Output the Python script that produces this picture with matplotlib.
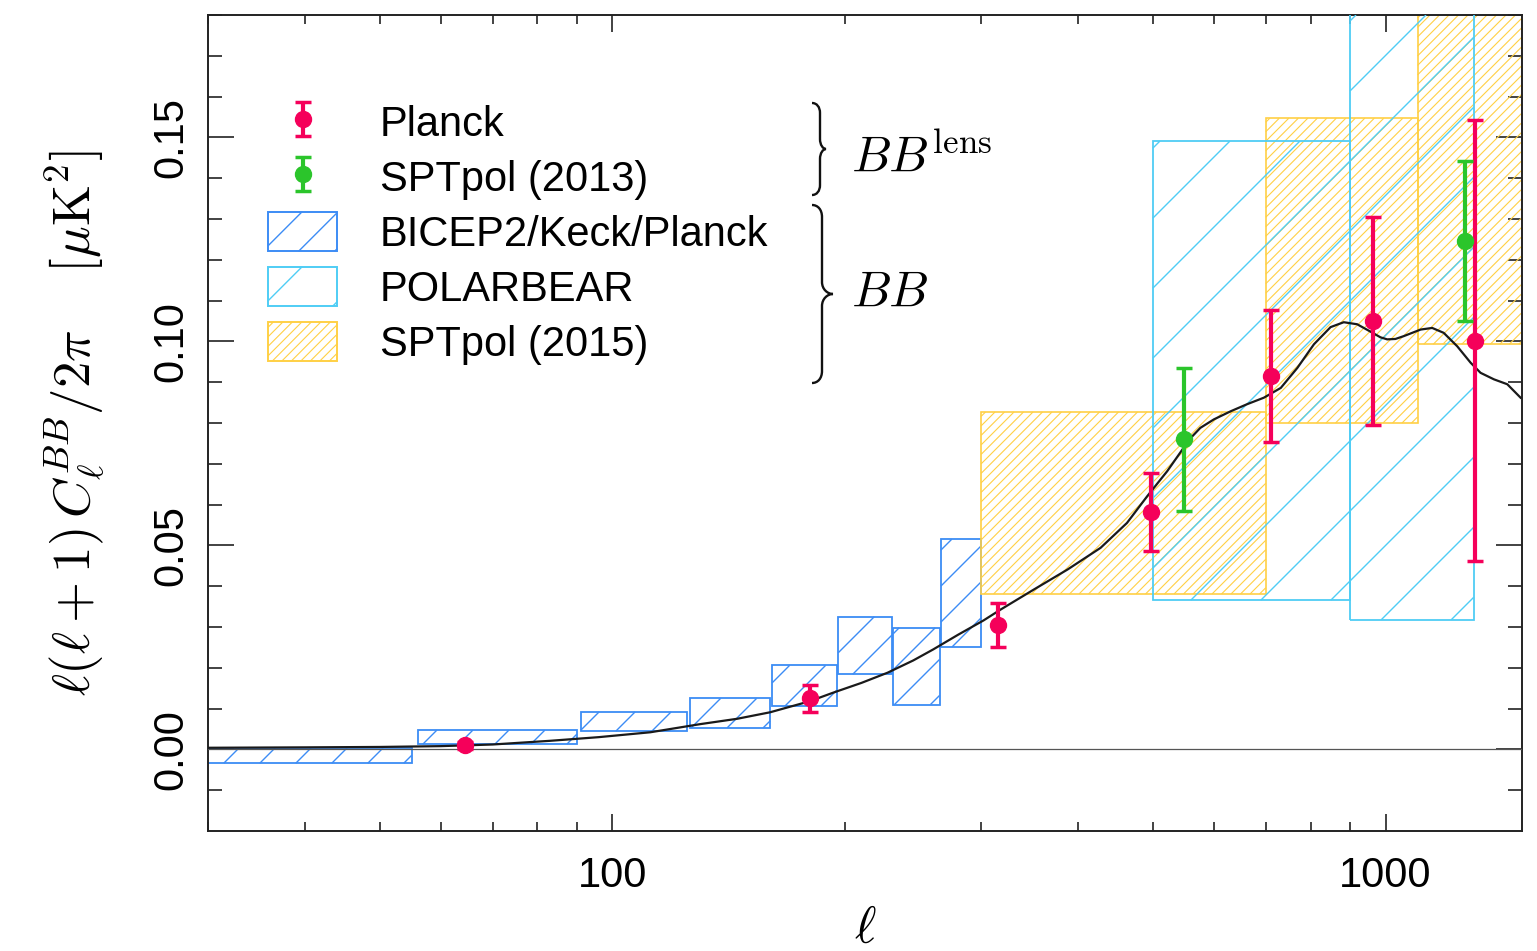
import numpy as np
import matplotlib
matplotlib.use("Agg")
import matplotlib.pyplot as plt
from matplotlib.patches import Rectangle, Patch, PathPatch
from matplotlib.path import Path
from matplotlib.collections import LineCollection
from matplotlib.legend_handler import HandlerBase, HandlerErrorbar
from matplotlib.container import ErrorbarContainer
from matplotlib.ticker import FixedLocator, LogLocator, NullFormatter, FuncFormatter

plt.rcParams['font.family'] = ['Liberation Sans', 'DejaVu Sans']
plt.rcParams['mathtext.fontset'] = 'cm'

# lensing BB theory curve
theory_ell = [30, 40, 50, 60, 70, 83, 96, 112, 130, 145, 160, 180, 193, 210, 227, 245,
              260, 280, 302, 318, 351, 388, 428, 463, 492, 522, 548, 559, 576, 600,
              631, 662, 696, 732, 769, 808, 849, 883, 919, 956, 985, 1005, 1030, 1056,
              1110, 1149, 1189, 1238, 1288, 1327, 1381, 1437, 1495]
theory_bb = [0.0004, 0.0005, 0.0006, 0.0008, 0.0012, 0.0021, 0.0030, 0.0042, 0.0062,
             0.0075, 0.0091, 0.0118, 0.0139, 0.0163, 0.0188, 0.0218, 0.0245, 0.0281,
             0.0316, 0.0343, 0.0392, 0.0441, 0.0494, 0.0555, 0.0621, 0.0682, 0.0739,
             0.0762, 0.0788, 0.0809, 0.0829, 0.0846, 0.0862, 0.0886, 0.0935, 0.0993,
             0.1035, 0.1047, 0.1042, 0.1024, 0.1010, 0.1005, 0.1006, 0.1013, 0.1029,
             0.1033, 0.1021, 0.0988, 0.0948, 0.0923, 0.0907, 0.0895, 0.0862]

# Planck lensing BB
planck_ell = [64.5, 180, 315, 498, 710, 962, 1304]
planck_bb = [0.0010, 0.0125, 0.0305, 0.0582, 0.0916, 0.1050, 0.1002]
planck_err = [0.0008, 0.0033, 0.0055, 0.0096, 0.0162, 0.0254, 0.0540]

# SPTpol (2013) lensing BB
spt13_ell = [548, 1266]
spt13_bb = [0.0760, 0.1246]
spt13_err = [0.0176, 0.0195]

# BICEP2/Keck/Planck band powers
bk_lo = [20, 56, 91, 126, 161, 196, 231, 266]
bk_hi = [55, 90, 125, 160, 195, 230, 265, 300]
bk_min = [-0.0034, 0.0013, 0.0045, 0.0053, 0.0106, 0.0184, 0.0110, 0.0251]
bk_max = [0.0004, 0.0047, 0.0092, 0.0125, 0.0206, 0.0325, 0.0298, 0.0515]

# POLARBEAR band powers
pb_lo = [500, 900]
pb_hi = [900, 1300]
pb_min = [0.0366, 0.0318]
pb_max = [0.1491, 0.2000]

# SPTpol (2015) band powers
spt15_lo = [300, 700, 1100]
spt15_hi = [700, 1100, 1500]
spt15_min = [0.0381, 0.0800, 0.0993]
spt15_max = [0.0827, 0.1547, 0.2000]

c_planck = '#F5005A'
c_spt13 = '#2BC52B'
c_bk = '#3C8CF5'
c_pb = '#4FCDF5'
c_spt15 = '#FFD045'

W, H = 1537, 951
fig = plt.figure(figsize=(W / 100, H / 100), dpi=100)
ax = fig.add_axes([208 / W, 1 - 831 / H, (1521.7 - 208) / W, (831 - 15) / H])
ax.set_xscale('log')
ax.set_xlim(30, 1500)
ax.set_ylim(-0.02, 0.18)


def diag_segments(x0, y0, x1, y1, s):
    segs = []
    for k in range(int(np.ceil((y0 - x1) / s)), int(np.floor((y1 - x0) / s)) + 1):
        c = k * s
        xs = max(x0, y0 - c)
        xe = min(x1, y1 - c)
        if xe > xs:
            segs.append([(xs, xs + c), (xe, xe + c)])
    return segs


def hatch_box(lo, hi, ymin, ymax, color, spacing, lw, z):
    (X0, Y0), (X1, Y1) = ax.transData.transform([(lo, ymin), (hi, ymax)])
    bx0, by0, bx1, by1 = ax.bbox.extents
    X0, X1 = max(X0, bx0), min(X1, bx1)
    Y0, Y1 = max(Y0, by0), min(Y1, by1)
    inv = ax.transAxes.inverted()
    segs = [inv.transform(s) for s in diag_segments(X0, Y0, X1, Y1, spacing)]
    ax.add_collection(LineCollection(segs, colors=color, linewidths=lw,
                                     transform=ax.transAxes, zorder=z))


def boxes(lo, hi, ymin, ymax, color, spacing, lw, hlw, z):
    for a, b, c, d in zip(lo, hi, ymin, ymax):
        ax.add_patch(Rectangle((a, c), b - a, d - c, fill=False, edgecolor=color,
                               lw=lw, zorder=z))
        hatch_box(a, b, c, d, color, spacing, hlw, z)


boxes(bk_lo, bk_hi, bk_min, bk_max, c_bk, 36, 1.3, 1.0, 2)
boxes(spt15_lo, spt15_hi, spt15_min, spt15_max, c_spt15, 9.5, 1.2, 0.8, 2)
boxes(pb_lo, pb_hi, pb_min, pb_max, c_pb, 70, 1.3, 1.0, 3)

ax.axhline(0, color='#555555', lw=0.9, zorder=3)
ax.plot(theory_ell, theory_bb, color='#1a1a1a', lw=1.6, zorder=4,
        solid_joinstyle='round')

eb_kw = dict(fmt='o', ms=11.5, elinewidth=3, capsize=5.5, capthick=2.5, zorder=5)
h_planck = ax.errorbar(planck_ell, planck_bb, yerr=planck_err, color=c_planck, **eb_kw)
h_spt13 = ax.errorbar(spt13_ell, spt13_bb, yerr=spt13_err, color=c_spt13, **eb_kw)

# ticks
ax.xaxis.set_major_locator(FixedLocator([100, 1000]))
ax.xaxis.set_major_formatter(FuncFormatter(lambda v, p: '%d' % v))
ax.xaxis.set_minor_locator(LogLocator(subs=np.arange(2, 10)))
ax.xaxis.set_minor_formatter(NullFormatter())
ax.yaxis.set_major_locator(FixedLocator([0.0, 0.05, 0.10, 0.15]))
ax.yaxis.set_major_formatter(FuncFormatter(lambda v, p: '%.2f' % v))
ax.yaxis.set_minor_locator(FixedLocator(np.arange(-0.01, 0.181, 0.01)))
ax.tick_params(which='both', direction='in', top=True, right=True, color='#222222',
               width=1.2, labelsize=30)
ax.tick_params(axis='x', which='major', length=12.5, pad=18)
ax.tick_params(axis='x', which='minor', length=6.5)
ax.tick_params(axis='y', which='major', length=18.5, pad=12, labelrotation=90)
ax.tick_params(axis='y', which='minor', length=10)
for lab in ax.get_yticklabels():
    lab.set_va('center')
for sp in ax.spines.values():
    sp.set_linewidth(1.4)
    sp.set_color('#222222')

ax.set_xlabel(r'$\ell$', fontsize=37)
ax.xaxis.set_label_coords(0.5, -0.09)
ax.set_ylabel(r'$\ell(\ell+1)\,C_\ell^{BB}/2\pi\quad\;[\mu{\rm K}^2]$', fontsize=38)
ax.yaxis.set_label_coords(-0.077, 0.5)


class HatchHandler(HandlerBase):
    def __init__(self, color, spacing, hlw):
        super().__init__()
        self.color, self.spacing, self.hlw = color, spacing, hlw

    def create_artists(self, legend, orig_handle, xdescent, ydescent, width, height,
                       fontsize, trans):
        x0, y0 = -xdescent, -ydescent
        rect = Rectangle((x0, y0), width, height, facecolor='none',
                         edgecolor=self.color, lw=1.4, transform=trans)
        s = self.spacing * 72 / fig.dpi
        segs = diag_segments(x0, y0, x0 + width, y0 + height, s)
        lc = LineCollection(segs, colors=self.color, linewidths=self.hlw, transform=trans)
        return [rect, lc]


p_bk = Patch(label='BICEP2/Keck/Planck')
p_pb = Patch(label='POLARBEAR')
p_spt15 = Patch(label='SPTpol (2015)')
ax.legend([h_planck, h_spt13, p_bk, p_pb, p_spt15],
          ['Planck', 'SPTpol (2013)', 'BICEP2/Keck/Planck', 'POLARBEAR', 'SPTpol (2015)'],
          handler_map={ErrorbarContainer: HandlerErrorbar(yerr_size=0.4),
                       p_bk: HatchHandler(c_bk, 36, 1.0),
                       p_pb: HatchHandler(c_pb, 70, 1.0),
                       p_spt15: HatchHandler(c_spt15, 9.5, 0.8)},
          loc='upper left', bbox_to_anchor=(0.0457, 0.8935), frameon=False, fontsize=30,
          handlelength=1.66, handleheight=1.08, handletextpad=1.03, labelspacing=0.29,
          borderpad=0, borderaxespad=0)


def brace(x0, x1, x2, ytop, ybot, r):
    ym = (ytop + ybot) / 2
    pts = [(x0, ytop),
           (x0 + 0.6 * (x1 - x0), ytop), (x1, ytop + 0.4 * r), (x1, ytop + r),
           (x1, ym - r),
           (x1, ym - 0.4 * r), ((x1 + x2) / 2, ym), (x2, ym),
           ((x1 + x2) / 2, ym), (x1, ym + 0.4 * r), (x1, ym + r),
           (x1, ybot - r),
           (x1, ybot - 0.4 * r), (x0 + 0.6 * (x1 - x0), ybot), (x0, ybot)]
    codes = [Path.MOVETO] + [Path.CURVE4] * 3 + [Path.LINETO] + [Path.CURVE4] * 6 + \
            [Path.LINETO] + [Path.CURVE4] * 3
    verts = [(x / W, 1 - y / H) for x, y in pts]
    fig.add_artist(PathPatch(Path(verts, codes), fill=False, lw=1.7, color='#111111',
                             transform=fig.transFigure))


brace(812, 820, 826, 103, 195, 10)
brace(812, 822, 833, 205, 383, 12)
ax.text((851 - 208) / 1313.7, (831 - 172) / 816, r'$BB^{\rm lens}$', fontsize=36,
        transform=ax.transAxes, va='baseline', ha='left')
ax.text((851 - 208) / 1313.7, (831 - 307) / 816, r'$BB$', fontsize=36,
        transform=ax.transAxes, va='baseline', ha='left')

fig.savefig('out.png', dpi=100)
